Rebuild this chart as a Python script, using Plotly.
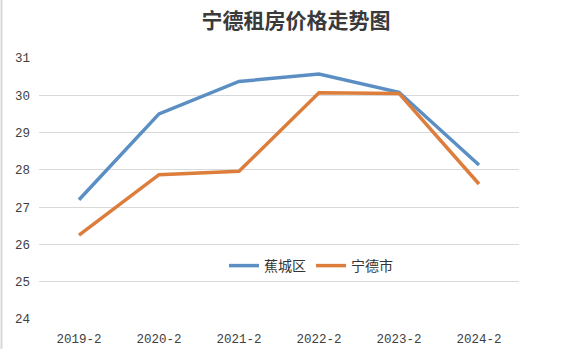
import plotly.graph_objects as go

categories = ["2019-2", "2020-2", "2021-2", "2022-2", "2023-2", "2024-2"]
jiaocheng = [27.2, 29.5, 30.37, 30.57, 30.08, 28.13]
ningde = [26.25, 27.87, 27.96, 30.07, 30.05, 27.62]
series_names = ["蕉城区", "宁德市"]
colors = ["#5b8fc4", "#dc7d3c"]

fig = go.Figure()
for name, vals, c in zip(series_names, [jiaocheng, ningde], colors):
    fig.add_trace(go.Scatter(x=categories, y=vals, mode="lines", name=name,
                             line=dict(color=c, width=3.5)))

fig.update_layout(
    width=582, height=358,
    margin=dict(l=39, r=63, t=58, b=39, autoexpand=False),
    paper_bgcolor="white", plot_bgcolor="white",
    title=dict(text="<b>宁德租房价格走势图</b>", x=296/582, xanchor="center", y=1-21/358, yanchor="middle",
               font=dict(family="Noto Sans CJK SC", size=21, color="#3a3a3a")),
    showlegend=True,
    legend=dict(orientation="h", x=(311-39)/480, xanchor="center", y=(319-266)/261, yanchor="middle",
                font=dict(family="Noto Sans CJK SC", size=14, color="#333333"),
                bgcolor="rgba(0,0,0,0)", itemwidth=30, tracegroupgap=0),
    xaxis=dict(type="category", range=[-0.5, 5.5], showgrid=False, zeroline=False, showline=False,
               ticks="", automargin=False,
               tickfont=dict(family="Liberation Mono", size=12.5, color="#404040"),
               ticklabelstandoff=10),
    yaxis=dict(range=[24, 31], dtick=1, showgrid=True, gridcolor="#d9d9d9", gridwidth=1,
               zeroline=False, showline=False, ticks="", automargin=False,
               tickfont=dict(family="Liberation Mono", size=12.5, color="#404040"),
               ticklabelstandoff=8),
    shapes=[dict(type="line", xref="paper", yref="paper", x0=-39/480 + 1.5/480, x1=-39/480 + 1.5/480,
                 y0=-30/261, y1=1 + 58/261, line=dict(color="#d8d8d8", width=2))],
)

fig.write_html("out.html", config={"displayModeBar": False},
               post_script="document.body.style.margin='0';document.body.style.padding='0';")
